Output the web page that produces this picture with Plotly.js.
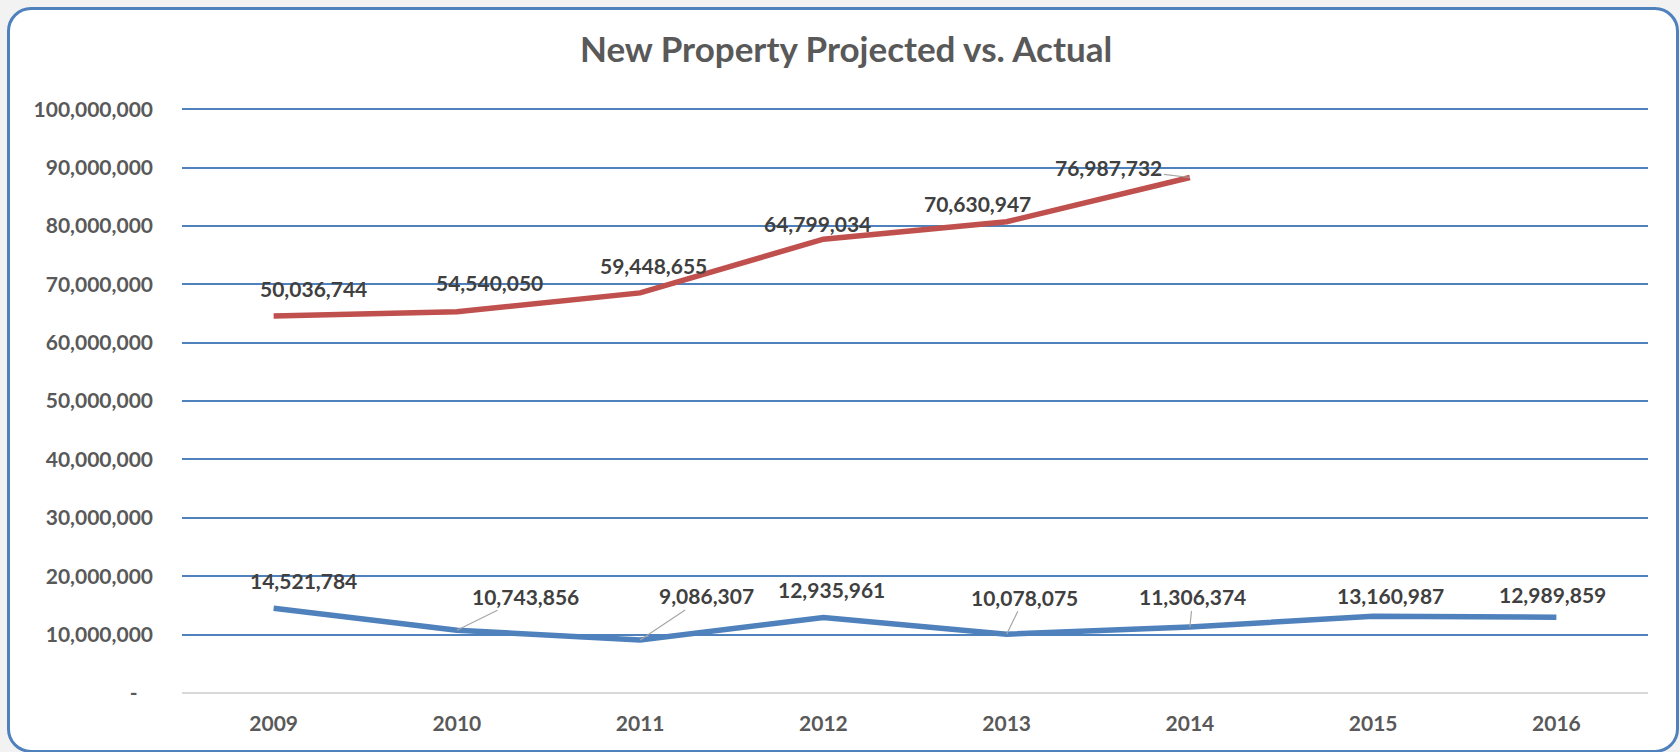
<!DOCTYPE html>
<html>
<head>
<meta charset="utf-8">
<script src="https://cdn.plot.ly/plotly-3.0.1.min.js"></script>
<style>
  html, body { margin: 0; padding: 0; background: #f2f2f2; width: 1680px; height: 752px; overflow: hidden; }
  #frame { position: absolute; left: 7px; top: 7px; width: 1672px; height: 746px; box-sizing: border-box;
           background: #ffffff; border: 3px solid #4f81bd; border-radius: 24px; }
  #chart { position: absolute; left: 0; top: 0; width: 1680px; height: 752px; }
</style>
</head>
<body>
<div id="frame"></div>
<div id="chart"></div>
<script>
// ---- data ----
const years = ['2009', '2010', '2011', '2012', '2013', '2014', '2015', '2016'];
const actual = [14521784, 10743856, 9086307, 12935961, 10078075, 11306374, 13160987, 12989859];
const projectedYears = ['2009', '2010', '2011', '2012', '2013', '2014'];
const projected = [50036744, 54540050, 59448655, 64799034, 70630947, 76987732];
const yTickValues = [0, 10000000, 20000000, 30000000, 40000000, 50000000, 60000000, 70000000, 80000000, 90000000, 100000000];
const yTickLabels = ['-\u00a0\u00a0\u00a0', '10,000,000', '20,000,000', '30,000,000', '40,000,000', '50,000,000',
                     '60,000,000', '70,000,000', '80,000,000', '90,000,000', '100,000,000'];
const chartTitle = 'New Property Projected vs. Actual';

// ---- label placement (pixel offsets from point, style only) ----
const projectedLabelOffsets = [[40, -28, false], [33, -29, false], [13, -27, false], [-6, -16, false], [-29, -18, false], [-81, -10, true]];
const actualLabelOffsets = [[30, -28, false], [69, -34, true], [66, -44, true], [8, -28, false], [18, -37, true], [3, -30, true], [17, -21, false], [-4, -23, false]];

const fmt = v => String(v).replace(/\B(?=(\d{3})+(?!\d))/g, ',');

// projected line is stacked on top of actual (Excel stacked line)
const projectedStacked = projectedYears.map((yr, i) => projected[i] + actual[years.indexOf(yr)]);

const labelFont = { family: 'Lato, Carlito, sans-serif', size: 21, color: '#404040', weight: 'bold' };

function makeLabel(yr, y, text, off) {
  const a = { x: years.indexOf(yr), y: y, xref: 'x', yref: 'y', text: text, font: labelFont };
  if (off[2]) {
    a.showarrow = true; a.ax = off[0]; a.ay = off[1]; a.arrowhead = 0; a.arrowwidth = 1.2;
    a.arrowcolor = '#a6a6a6';
  } else {
    a.showarrow = false; a.xshift = off[0]; a.yshift = -off[1];
  }
  return a;
}

const annotations = [];
projectedYears.forEach((yr, i) => annotations.push(makeLabel(yr, projectedStacked[i], fmt(projected[i]), projectedLabelOffsets[i])));
years.forEach((yr, i) => annotations.push(makeLabel(yr, actual[i], fmt(actual[i]), actualLabelOffsets[i])));

const traces = [
  { type: 'scatter', mode: 'lines', name: 'Actual', x: years, y: actual,
    line: { color: '#4f81bd', width: 5.5 }, hoverinfo: 'skip' },
  { type: 'scatter', mode: 'lines', name: 'Projected', x: projectedYears, y: projectedStacked,
    line: { color: '#c0504d', width: 5.5 }, hoverinfo: 'skip' }
];

const tickFont = { family: 'Lato, Carlito, sans-serif', size: 21, color: '#595959', weight: 'bold' };

const layout = {
  width: 1680, height: 752,
  paper_bgcolor: 'rgba(0,0,0,0)', plot_bgcolor: 'rgba(0,0,0,0)',
  margin: { l: 182, r: 32, t: 108, b: 59, pad: 0 },
  showlegend: false,
  hovermode: false,
  title: { text: chartTitle, x: 0.5036, xanchor: 'center', y: 0.9335, yanchor: 'middle', yref: 'container',
           font: { family: 'Lato, Carlito, sans-serif', size: 35, color: '#595959', weight: 'bold' } },
  xaxis: { type: 'category', categoryarray: years, categoryorder: 'array', range: [-0.5, 7.5],
           showgrid: false, zeroline: false, showline: false, ticks: '',
           tickfont: tickFont, ticklabelstandoff: 16 },
  yaxis: { range: [0, 100200000], tickvals: yTickValues, ticktext: yTickLabels,
           showgrid: true, gridcolor: '#4f81bd', gridwidth: 2,
           zeroline: true, zerolinecolor: '#d9d9d9', zerolinewidth: 2,
           showline: false, ticks: '', tickfont: tickFont, ticklabelstandoff: 28 },
  annotations: annotations
};

Plotly.newPlot('chart', traces, layout, { displayModeBar: false, staticPlot: true });
</script>
</body>
</html>
